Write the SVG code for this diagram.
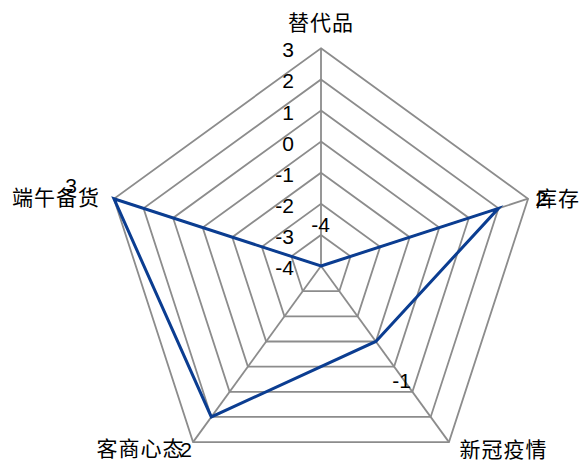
<svg xmlns="http://www.w3.org/2000/svg" width="584" height="462" viewBox="0 0 584 462">
<style>
.ring{fill:none;stroke:#8c8c8c;stroke-width:1.8;stroke-linejoin:miter}
.spoke{stroke:#8c8c8c;stroke-width:1.8}
.data{fill:none;stroke:#0b3d91;stroke-width:3;stroke-linejoin:miter}
.num{font-family:"Liberation Sans",Arial,sans-serif;font-size:21px;fill:#000}
.cat{font-family:"Noto Sans CJK SC","Noto Sans",sans-serif;font-size:21px;fill:#000;letter-spacing:1px}
</style>
<rect width="584" height="462" fill="#fff"/>
<g id="grid">
<polygon class="ring" points="321,234.9 350.58,256.39 339.28,291.16 302.72,291.16 291.42,256.39"/>
<polygon class="ring" points="321,203.8 380.16,246.78 357.56,316.32 284.44,316.32 261.84,246.78"/>
<polygon class="ring" points="321,172.7 409.73,237.17 375.84,341.48 266.16,341.48 232.27,237.17"/>
<polygon class="ring" points="321,141.6 439.31,227.56 394.12,366.64 247.88,366.64 202.69,227.56"/>
<polygon class="ring" points="321,110.5 468.89,217.95 412.40,391.80 229.60,391.80 173.11,217.95"/>
<polygon class="ring" points="321,79.4 498.47,208.34 430.68,416.96 211.32,416.96 143.53,208.34"/>
<polygon class="ring" points="321,48.3 528.05,198.73 448.96,442.12 193.04,442.12 113.95,198.73"/>
</g>
<g id="connectors">
<line class="spoke" x1="321" y1="266" x2="321" y2="48.3"/>
<line class="spoke" x1="321" y1="266" x2="528.05" y2="198.73"/>
<line class="spoke" x1="321" y1="266" x2="448.96" y2="442.12"/>
<line class="spoke" x1="321" y1="266" x2="193.04" y2="442.12"/>
<line class="spoke" x1="321" y1="266" x2="113.95" y2="198.73"/>
</g>
<g id="series">
<polygon class="data" points="321,266 498.47,208.34 375.84,341.48 211.32,416.96 113.95,198.73"/>
</g>
<g id="axis-labels" class="num" text-anchor="end">
<text x="294" y="57.3">3</text>
<text x="294" y="88.4">2</text>
<text x="294" y="119.5">1</text>
<text x="294" y="150.6">0</text>
<text x="294" y="181.7">-1</text>
<text x="294" y="212.8">-2</text>
<text x="294" y="243.9">-3</text>
<text x="294" y="275">-4</text>
</g>
<g id="node-tidaipin"><text class="cat" x="321" y="30" text-anchor="middle">替代品</text></g>
<g id="node-kucun"><text class="cat" x="536" y="206" text-anchor="start">库存</text></g>
<g id="node-xinguan"><text class="cat" x="503.5" y="456.5" text-anchor="middle">新冠疫情</text></g>
<g id="node-keshang"><text class="cat" x="140.5" y="456" text-anchor="middle">客商心态</text></g>
<g id="node-duanwu"><text class="cat" x="56" y="205" text-anchor="middle">端午备货</text></g>
<g id="data-labels" class="num" text-anchor="middle">
<text x="320.5" y="231.5">-4</text>
<text x="541" y="205.5">2</text>
<text x="401.7" y="388.3">-1</text>
<text x="186" y="457">2</text>
<text x="71" y="193">3</text>
</g>
</svg>
